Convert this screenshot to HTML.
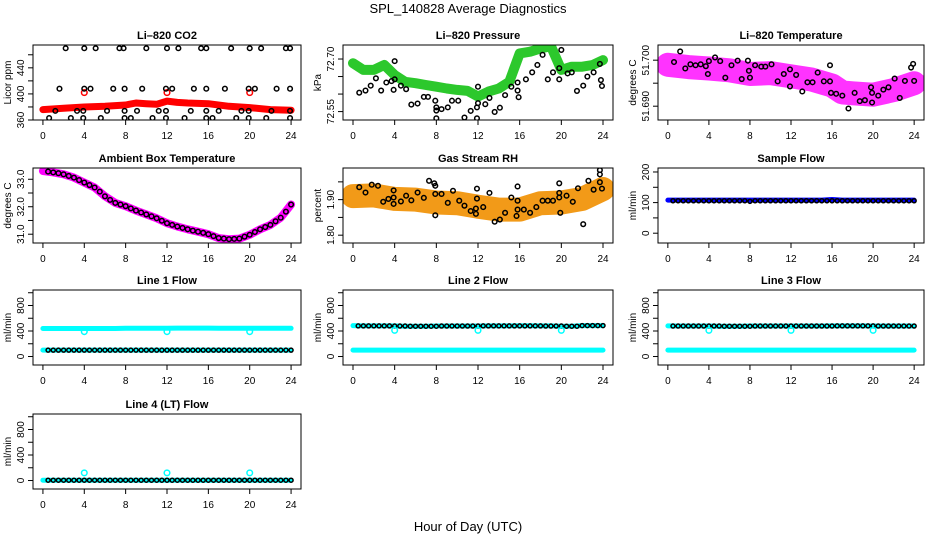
<!DOCTYPE html>
<html><head><meta charset="utf-8"><style>
html,body{margin:0;padding:0;background:#fff;}
svg{display:block;font-family:"Liberation Sans",sans-serif;}
</style></head><body>
<svg id="chart" width="936" height="540" viewBox="0 0 936 540">
<text x="468" y="13" text-anchor="middle" font-size="13">SPL_140828  Average Diagnostics</text>
<text x="468" y="531" text-anchor="middle" font-size="13">Hour of Day (UTC)</text>
</svg>
<script>
// ---------- data ----------
const hourTicks = [0,4,8,12,16,20,24];
const hours = [0,1,2,3,4,5,6,7,8,9,10,11,12,13,14,15,16,17,18,19,20,21,22,23,24];
const halfHours = [0.5,1,1.5,2,2.5,3,3.5,4,4.5,5,5.5,6,6.5,7,7.5,8,8.5,9,9.5,10,10.5,11,11.5,12,12.5,13,13.5,14,14.5,15,15.5,16,16.5,17,17.5,18,18.5,19,19.5,20,20.5,21,21.5,22,22.5,23,23.5,24];
const calHours = [4,12,20];

// CO2
const co2BandT = [0,2,4,6,8,9,10,11,12,13,14,16,18,20,22,24];
const co2BandV = [376,378,380,381,383,386,385,384,389,387,386,385,381,379,376,375];
const co2BlackT = [2.2,4,5.1,7.4,7.8,10,12,13.1,15.3,15.8,18.2,20,21.1,23.5,23.9,
 1.6,4,4.6,6.8,7.9,9.6,11.9,12.5,14.6,15.8,17.6,19.9,20.5,22.6,23.9,
 1.2,3.3,3.9,6.2,7.9,9.1,11.2,11.9,14.3,15.8,17,19.2,19.9,22.1,23.9,
 0.6,2.7,3.9,5.6,7.9,8.5,10.6,11.9,13.7,15.8,16.4,18.7,19.9,21.6,23.9];
const co2BlackV = [470,470,470,470,470,470,470,470,470,470,470,470,470,470,470,
 408,408,408,408,408,408,408,408,408,408,408,408,408,408,408,
 374,374,374,374,374,374,374,374,374,374,374,374,374,374,374,
 363,363,363,363,363,363,363,363,363,363,363,363,363,363,363];
const co2CalV = [402,402,402];

// Pressure
const presBandV = [72.688,72.669,72.669,72.683,72.654,72.635,72.631,72.626,72.621,72.616,72.612,72.609,72.593,72.607,72.616,72.635,72.716,72.721,72.730,72.737,72.669,72.678,72.678,72.683,72.697];
const presBlackT = [0.6,1.2,1.7,2.2,2.7,3.2,3.7,3.9,4,4,4.6,5.1,5.6,6.2,6.8,7.2,7.9,8,8,8,8.5,9.1,9.5,10.1,10.7,11.3,11.9,11.9,12,12,12.7,13.1,13.6,14.1,14.6,15.2,15.8,15.9,15.8,16.6,17.2,17.7,18.2,18.7,19.2,19.8,19.8,20,20.6,21,21.5,22.1,22.5,23.1,23.7,23.8,23.9];
const presBlackV = [72.604,72.610,72.624,72.645,72.610,72.633,72.637,72.612,72.694,72.642,72.624,72.614,72.570,72.573,72.592,72.592,72.581,72.562,72.553,72.531,72.557,72.562,72.581,72.581,72.533,72.552,72.562,72.531,72.621,72.574,72.571,72.589,72.549,72.561,72.597,72.621,72.610,72.591,72.633,72.642,72.662,72.683,72.712,72.642,72.662,72.642,72.674,72.726,72.659,72.662,72.609,72.624,72.650,72.662,72.686,72.640,72.623];

// Li-820 temperature
const tempBandT = [0,2,4,6,8,10,12,14,16,17,18,20,22,24];
const tempBandV = [51.6990,51.6985,51.6982,51.6978,51.6970,51.6972,51.6965,51.6958,51.6945,51.6930,51.6928,51.6925,51.6935,51.6950];
const tempBlackT = [0.6,1.2,1.7,2.2,2.7,3.2,3.7,3.9,4,4.6,5.1,5.6,6.2,6.8,7.2,7.8,7.9,8,8.5,9.1,9.5,10.1,10.7,11.3,11.9,11.9,12.5,13.1,13.6,14.1,14.6,15.2,15.8,15.8,15.9,16.4,17,17.6,18.2,18.7,19.2,19.8,19.9,19.9,20.5,21,21.5,22.1,22.6,23.1,23.7,23.9,24];
const tempBlackV = [51.6996,51.7019,51.6982,51.6991,51.6989,51.6991,51.6987,51.6970,51.6998,51.7006,51.6998,51.6962,51.6989,51.6999,51.6959,51.6999,51.6977,51.6962,51.6989,51.6986,51.6986,51.6991,51.6954,51.6970,51.6980,51.6943,51.6968,51.6932,51.6952,51.6952,51.6973,51.6954,51.6954,51.6989,51.6929,51.6927,51.6923,51.6895,51.6929,51.6911,51.6913,51.6941,51.6908,51.6929,51.6923,51.6936,51.6941,51.6960,51.6918,51.6955,51.6984,51.6992,51.6955];

// Ambient box temperature
const ambV = [33.30,33.25,33.18,33.06,32.88,32.70,32.38,32.14,32.02,31.86,31.72,31.58,31.40,31.28,31.18,31.09,31.00,30.86,30.82,30.84,30.98,31.18,31.34,31.60,32.08];
const ambMidT = [0.5,1.5,2.5,3.5,4.5,5.5,6.5,7.5,8.5,9.5,10.5,11.5,12.5,13.5,14.5,15.5,16.5,17.5,18.5,19.5,20.5,21.5,22.5,23.5];
const ambMidV = [33.28,33.22,33.12,32.97,32.79,32.55,32.25,32.08,31.94,31.79,31.65,31.49,31.34,31.23,31.13,31.05,30.93,30.84,30.83,30.91,31.08,31.26,31.47,31.82];

// Gas stream RH
const rhBandT = [0,2,4,6,8,10,12,14,16,18,20,22,24];
const rhBandV = [1.910,1.912,1.902,1.900,1.892,1.890,1.880,1.872,1.872,1.890,1.892,1.902,1.930];
const rhBlackT = [0.6,1.2,1.8,2.4,2.9,3.4,3.9,3.9,3.9,4.6,5.1,5.6,6.2,6.8,7.3,7.8,7.9,7.9,7.9,8.5,9.1,9.6,10.2,10.7,11.3,11.8,11.8,11.9,11.9,12.5,13.1,13.6,14.1,14.6,15.2,15.8,15.8,15.8,15.7,16.4,17,17.6,18.2,18.7,19.2,19.8,19.8,19.8,19.9,20.5,21.1,21.6,22.1,22.6,23.1,23.7,23.7,23.7,23.9];
const rhBlackV = [1.935,1.920,1.942,1.939,1.894,1.902,1.926,1.906,1.888,1.895,1.911,1.898,1.920,1.905,1.953,1.946,1.939,1.916,1.856,1.916,1.891,1.925,1.897,1.883,1.868,1.875,1.860,1.931,1.903,1.879,1.919,1.838,1.844,1.863,1.906,1.937,1.897,1.872,1.854,1.872,1.863,1.879,1.897,1.897,1.897,1.946,1.919,1.906,1.863,1.911,1.894,1.932,1.831,1.953,1.928,1.983,1.971,1.949,1.931];

// Flows
const sampleBand = [108,108,108,108,108,108,108,108,108,108,108,108,108,108,108,108,110,108,108,108,108,108,108,108,108];
const sampleBlack = [106,106,106,106,106,106,106,106,106,106,106,106,106,106,106,104,106,106,106,106,106,106,106,106,106,106,106,106,106,106,106,106,106,106,106,106,106,106,106,106,106,106,106,106,106,106,106,106];
const line1High = [440,440,440,440,440,440,440,440,442,442,442,442,442,445,445,445,445,442,442,442,442,442,442,442,442];
const line1Low = [100,100,100,100,100,100,100,100,100,100,100,100,100,100,100,100,100,100,100,100,100,100,100,100,100];
const line1Black = [100,100,100,100,100,100,100,100,100,100,100,100,100,100,100,100,100,100,100,100,100,100,100,100,100,100,100,100,100,100,100,100,100,100,100,100,100,100,100,100,100,100,100,100,100,100,100,100];
const line1Cal = [390,390,390];
const line2High = [485,480,480,480,480,475,475,475,478,478,478,478,478,480,480,480,482,482,480,480,475,475,485,485,485];
const line2Low = [100,100,100,100,100,100,100,100,100,100,100,100,100,100,100,100,100,100,100,100,100,100,100,100,100];
const line2Black = [480,480,480,480,480,480,480,478,478,478,475,475,475,475,475,475,478,478,478,478,478,478,478,478,480,480,480,480,480,480,480,480,480,480,480,480,478,478,478,478,475,475,475,485,485,485,485,485];
const line2Cal = [410,410,410];
const line3High = [480,478,478,478,478,475,475,475,478,478,478,478,478,478,478,478,480,480,480,480,478,478,478,478,478];
const line3Low = [100,100,100,100,100,100,100,100,100,100,100,100,100,100,100,100,100,100,100,100,100,100,100,100,100];
const line3Black = [478,478,478,478,478,478,478,478,478,478,475,475,475,475,475,475,478,478,478,478,478,478,478,478,478,478,478,478,478,478,478,478,480,480,480,480,480,480,480,480,478,478,478,478,478,478,478,478];
const line3Cal = [410,410,410];
const line4Band = [5,5,5,5,5,5,5,5,5,5,5,5,5,5,5,5,5,5,5,5,5,5,5,5,5];
const line4Black = [5,5,5,5,5,5,5,5,5,5,5,5,5,5,5,5,5,5,5,5,5,5,5,5,5,5,5,5,5,5,5,5,5,5,5,5,5,5,5,5,5,5,5,5,5,5,5,5];
const line4Cal = [120,120,120];

// ---------- drawing ----------
const NS = 'http://www.w3.org/2000/svg';
const svg = document.getElementById('chart');
function el(tag, attrs, parent) {
  const e = document.createElementNS(NS, tag);
  for (const k in attrs) e.setAttribute(k, attrs[k]);
  (parent || svg).appendChild(e);
  return e;
}

function makePanel(cfg) {
  const g = el('g', {});
  
  
  const sx = t => cfg.x + cfg.w * (t + 0.96) / 25.92;
  const sy = v => cfg.y + cfg.h - cfg.h * (v - cfg.ymin) / (cfg.ymax - cfg.ymin);
  const p = {g, sx, sy};
  const tt = el('text', {x: cfg.x + cfg.w / 2, y: cfg.y - 6, 'text-anchor': 'middle', 'font-size': 11, 'font-weight': 'bold'}, g);
  tt.textContent = cfg.title;
  
  
  const xa = el('g', {}, g);
  
  
  const by = cfg.y + cfg.h;
  el('line', {x1: sx(0), x2: sx(24), y1: by, y2: by, stroke: '#000'}, xa);
  hourTicks.forEach(t => {
    el('line', {x1: sx(t), x2: sx(t), y1: by, y2: by + 5, stroke: '#000'}, xa);
    const lb = el('text', {x: sx(t), y: by + 19, 'text-anchor': 'middle', 'font-size': 10}, xa);
    lb.textContent = t;
    
    
  });
  const ya = el('g', {}, g);
  
  
  el('line', {x1: cfg.x, x2: cfg.x, y1: sy(cfg.yticks[0]), y2: sy(cfg.yticks[cfg.yticks.length - 1]), stroke: '#000'}, ya);
  cfg.yticks.forEach(v => {
    el('line', {x1: cfg.x - 5, x2: cfg.x, y1: sy(v), y2: sy(v), stroke: '#000'}, ya);
  });
  cfg.ylabels.forEach((v, i) => {
    const lx = cfg.x - 9, ly = sy(v);
    const lb = el('text', {x: lx, y: ly, 'text-anchor': 'middle', 'font-size': 10, transform: `rotate(-90 ${lx} ${ly})`}, ya);
    lb.textContent = cfg.ylabelText ? cfg.ylabelText[i] : v;
    
    
  });
  const yx = cfg.x - 22, yy = cfg.y + cfg.h / 2;
  const yl = el('text', {x: yx, y: yy, 'text-anchor': 'middle', 'font-size': 10, transform: `rotate(-90 ${yx} ${yy})`}, g);
  yl.textContent = cfg.ylab;
  
  
  const cid = 'clip-' + cfg.name;
  const cp = el('clipPath', {id: cid}, g);
  el('rect', {x: cfg.x, y: cfg.y, width: cfg.w, height: cfg.h}, cp);
  p.data = el('g', {'clip-path': `url(#${cid})`}, g);
  p.finish = () => {
    const box = el('rect', {x: cfg.x, y: cfg.y, width: cfg.w, height: cfg.h, fill: 'none', stroke: '#000'}, g);
    
    
  };
  return p;
}

function band(p, ts, vs, color, width, name) {
  const pts = ts.map((t, i) => p.sx(t).toFixed(1) + ',' + p.sy(vs[i]).toFixed(1)).join(' ');
  const l = el('polyline', {points: pts, fill: 'none', stroke: color, 'stroke-width': width, 'stroke-linejoin': 'round', 'stroke-linecap': 'round'}, p.data);
  
  
}
function dots(p, ts, vs, color, name, r) {
  const g = el('g', {}, p.data);
  
  
  ts.forEach((t, i) => {
    const c = el('circle', {cx: p.sx(t), cy: p.sy(vs[i]), r: r || 2.3, fill: 'none', stroke: color, 'stroke-width': 1.5}, g);
    
    
  });
}

const col = [{x: 33, w: 268}, {x: 343, w: 270}, {x: 658, w: 266}];
const rowY = [45, 168, 290, 414];
const H = 75;
const flowTicks = [0,200,400,600,800,1000];

let p = makePanel({name: 'co2', title: 'Li\u2013820 CO2', ylab: 'Licor ppm', x: col[0].x, w: col[0].w, y: rowY[0], h: H, ymin: 360, ymax: 475, yticks: [360,380,400,420,440,460], ylabels: [360,400,440]});
band(p, co2BandT, co2BandV, '#ff0000', 7, 'co2-red-series');
dots(p, calHours, co2CalV, '#ff0000', 'co2-red-cal-points', 2.8);
dots(p, co2BlackT, co2BlackV, '#000', 'co2-black-points');
p.finish();

p = makePanel({name: 'pressure', title: 'Li\u2013820 Pressure', ylab: 'kPa', x: col[1].x, w: col[1].w, y: rowY[0], h: H, ymin: 72.526, ymax: 72.74, yticks: [72.55,72.60,72.65,72.70], ylabels: [72.55,72.70], ylabelText: ['72.55','72.70']});
band(p, hours, presBandV, '#2cc82c', 10, 'pressure-green-series');
dots(p, presBlackT, presBlackV, '#000', 'pressure-black-points');
p.finish();

p = makePanel({name: 'li820-temp', title: 'Li\u2013820 Temperature', ylab: 'degrees C', x: col[2].x, w: col[2].w, y: rowY[0], h: H, ymin: 51.687, ymax: 51.7033, yticks: [51.690,51.695,51.700], ylabels: [51.690,51.700], ylabelText: ['51.690','51.700']});
band(p, tempBandT, tempBandV, '#ff33ff', 24, 'temp-magenta-series');
dots(p, tempBlackT, tempBlackV, '#000', 'temp-black-points');
p.finish();

p = makePanel({name: 'ambient-temp', title: 'Ambient Box Temperature', ylab: 'degrees C', x: col[0].x, w: col[0].w, y: rowY[1], h: H, ymin: 30.68, ymax: 33.41, yticks: [31.0,31.5,32.0,32.5,33.0], ylabels: [31.0,32.0,33.0], ylabelText: ['31.0','32.0','33.0']});
band(p, hours, ambV, '#ff00ff', 8, 'ambient-magenta-series');
dots(p, hours.slice(1), ambV.slice(1), '#000', 'ambient-black-points-hourly');
dots(p, ambMidT, ambMidV, '#000', 'ambient-black-points-half');
p.finish();

p = makePanel({name: 'rh', title: 'Gas Stream RH', ylab: 'percent', x: col[1].x, w: col[1].w, y: rowY[1], h: H, ymin: 1.778, ymax: 1.989, yticks: [1.80,1.85,1.90,1.95], ylabels: [1.80,1.90], ylabelText: ['1.80','1.90']});
band(p, rhBandT, rhBandV, '#f29a18', 24, 'rh-orange-series');
dots(p, rhBlackT, rhBlackV, '#000', 'rh-black-points');
p.finish();

p = makePanel({name: 'sample-flow', title: 'Sample Flow', ylab: 'ml/min', x: col[2].x, w: col[2].w, y: rowY[1], h: H, ymin: -32, ymax: 213, yticks: [0,50,100,150,200], ylabels: [0,100,200]});
band(p, hours, sampleBand, '#0000ff', 5, 'sample-blue-series');
dots(p, halfHours, sampleBlack, '#000', 'sample-black-points', 2);
p.finish();

function flowPanel(name, title, c, r) {
  return makePanel({name, title, ylab: 'ml/min', x: col[c].x, w: col[c].w, y: rowY[r], h: H, ymin: -133, ymax: 1043, yticks: flowTicks, ylabels: [0,400,800]});
}
p = flowPanel('line1-flow', 'Line 1 Flow', 0, 2);
band(p, hours, line1High, '#00ffff', 5, 'line1-cyan-high');
band(p, hours, line1Low, '#00ffff', 5, 'line1-cyan-low');
dots(p, halfHours, line1Black, '#000', 'line1-black-points', 2);
dots(p, calHours, line1Cal, '#00ffff', 'line1-cal-points', 2.8);
p.finish();

p = flowPanel('line2-flow', 'Line 2 Flow', 1, 2);
band(p, hours, line2High, '#00ffff', 5, 'line2-cyan-high');
band(p, hours, line2Low, '#00ffff', 5, 'line2-cyan-low');
dots(p, halfHours, line2Black, '#000', 'line2-black-points', 2);
dots(p, calHours, line2Cal, '#00ffff', 'line2-cal-points', 2.8);
p.finish();

p = flowPanel('line3-flow', 'Line 3 Flow', 2, 2);
band(p, hours, line3High, '#00ffff', 5, 'line3-cyan-high');
band(p, hours, line3Low, '#00ffff', 5, 'line3-cyan-low');
dots(p, halfHours, line3Black, '#000', 'line3-black-points', 2);
dots(p, calHours, line3Cal, '#00ffff', 'line3-cal-points', 2.8);
p.finish();

p = flowPanel('line4-flow', 'Line 4 (LT) Flow', 0, 3);
band(p, hours, line4Band, '#00ffff', 5, 'line4-cyan-series');
dots(p, halfHours, line4Black, '#000', 'line4-black-points', 2);
dots(p, calHours, line4Cal, '#00ffff', 'line4-cal-points', 2.8);
p.finish();
</script>
</body></html>
